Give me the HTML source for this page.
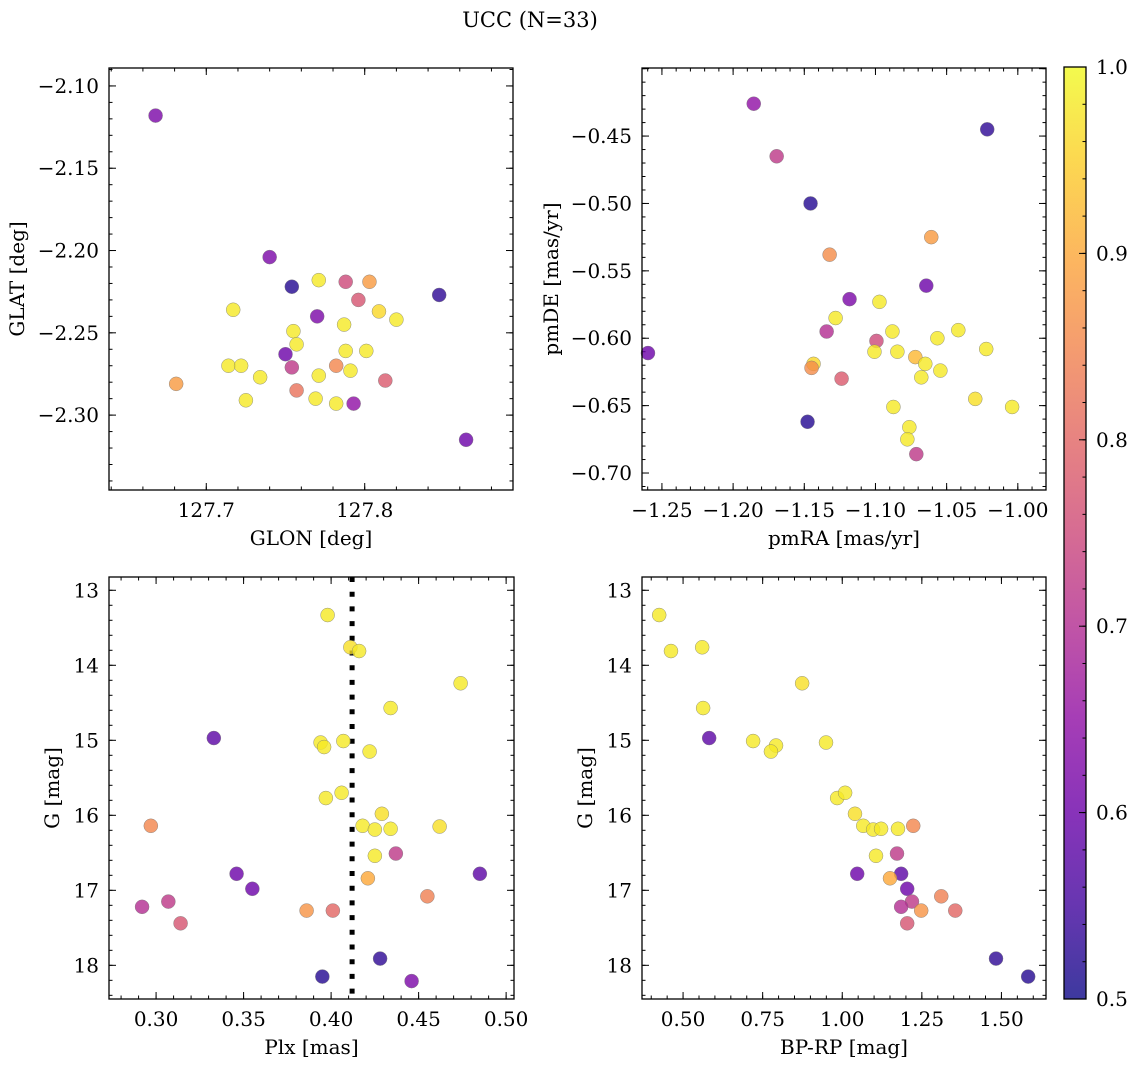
<!DOCTYPE html>
<html><head><meta charset="utf-8">
<style>
html,body{margin:0;padding:0;background:#fff;}
svg{display:block;font-family:"DejaVu Serif","Liberation Serif",serif;}
</style></head>
<body>
<svg id="fig" width="1136" height="1067" viewBox="0 0 1136 1067" xmlns="http://www.w3.org/2000/svg">
<text x="530" y="27" font-size="21" text-anchor="middle">UCC (N=33)</text>
</svg>
<script>
// Panel 1: GLON vs GLAT
const glon = [127.668,127.740,127.754,127.771,127.788,127.803,127.847,127.796,127.717,127.809,127.820,127.770,127.787,127.755,127.757,127.788,127.801,127.750,127.714,127.722,127.754,127.782,127.791,127.734,127.771,127.813,127.681,127.757,127.725,127.769,127.782,127.793,127.864];
const glat = [-2.118,-2.204,-2.222,-2.218,-2.219,-2.219,-2.227,-2.230,-2.236,-2.237,-2.242,-2.240,-2.245,-2.249,-2.257,-2.261,-2.261,-2.263,-2.270,-2.270,-2.271,-2.270,-2.273,-2.277,-2.276,-2.279,-2.281,-2.285,-2.291,-2.290,-2.293,-2.293,-2.315];
const prob1 = [0.62,0.62,0.52,0.98,0.75,0.88,0.53,0.77,0.98,0.96,0.98,0.62,0.98,0.98,0.98,0.98,0.98,0.6,0.98,0.98,0.72,0.85,0.98,0.98,0.98,0.78,0.88,0.82,0.98,0.98,0.98,0.65,0.6];
const glonTicks = ["127.7","127.8"];
const glatTicks = ["−2.10","−2.15","−2.20","−2.25","−2.30"];
// Panel 2: pmRA vs pmDE
const pmra = [-1.1855,-1.1694,-1.0215,-1.1456,-1.0608,-1.1322,-1.0643,-1.1182,-1.0972,-1.128,-1.1343,-1.0881,-1.0418,-1.0565,-1.0993,-1.1435,-1.1449,-1.0846,-1.1007,-1.0222,-1.072,-1.065,-1.0544,-1.2598,-1.1238,-1.0678,-1.0299,-1.0874,-1.004,-1.0762,-1.0776,-1.1477,-1.0713];
const pmde = [-0.426,-0.465,-0.445,-0.500,-0.525,-0.538,-0.561,-0.571,-0.573,-0.585,-0.595,-0.595,-0.594,-0.600,-0.602,-0.619,-0.622,-0.610,-0.610,-0.608,-0.614,-0.619,-0.624,-0.611,-0.630,-0.629,-0.645,-0.651,-0.651,-0.666,-0.675,-0.662,-0.686];
const prob2 = [0.65,0.72,0.53,0.52,0.88,0.86,0.6,0.62,0.98,0.98,0.7,0.98,0.98,0.98,0.75,0.96,0.86,0.98,0.98,0.98,0.92,0.98,0.98,0.6,0.78,0.98,0.97,0.98,0.98,0.98,0.98,0.52,0.72];
const pmraTicks = ["−1.25","−1.20","−1.15","−1.10","−1.05","−1.00"];
const pmdeTicks = ["−0.45","−0.50","−0.55","−0.60","−0.65","−0.70"];
// Panel 3: Plx vs G
const plx = [0.398,0.411,0.416,0.474,0.434,0.333,0.394,0.396,0.407,0.422,0.397,0.406,0.429,0.297,0.418,0.425,0.434,0.462,0.425,0.437,0.346,0.421,0.485,0.355,0.455,0.307,0.292,0.386,0.401,0.314,0.395,0.428,0.446];
const gmag3 = [13.33,13.76,13.81,14.24,14.57,14.97,15.03,15.09,15.01,15.15,15.77,15.70,15.98,16.14,16.14,16.19,16.18,16.15,16.54,16.51,16.78,16.84,16.78,16.98,17.08,17.15,17.22,17.27,17.27,17.44,18.15,17.91,18.21];
const prob3 = [0.98,0.97,0.98,0.98,0.98,0.58,0.98,0.98,0.98,0.98,0.98,0.98,0.97,0.85,0.98,0.98,0.98,0.97,0.98,0.72,0.6,0.9,0.58,0.6,0.84,0.72,0.7,0.87,0.8,0.77,0.52,0.53,0.62];
const plxLine = 0.412;
const plxTicks = ["0.30","0.35","0.40","0.45","0.50"];
const gTicks = ["13","14","15","16","17","18"];
// Panel 4: BP-RP vs G
const bprp = [0.425,0.462,0.560,0.874,0.563,0.582,0.720,0.792,0.776,0.949,0.984,1.009,1.040,1.066,1.097,1.122,1.175,1.223,1.106,1.172,1.047,1.185,1.150,1.204,1.311,1.219,1.185,1.248,1.355,1.204,1.483,1.584];
const gmag4 = [13.33,13.81,13.76,14.24,14.57,14.97,15.01,15.07,15.15,15.03,15.77,15.70,15.98,16.14,16.19,16.18,16.18,16.14,16.54,16.51,16.78,16.78,16.84,16.98,17.08,17.15,17.22,17.27,17.27,17.44,17.91,18.15];
const prob4 = [0.98,0.98,0.98,0.97,0.98,0.58,0.98,0.98,0.98,0.98,0.98,0.98,0.97,0.98,0.98,0.98,0.98,0.85,0.98,0.72,0.6,0.58,0.9,0.6,0.84,0.72,0.7,0.87,0.8,0.77,0.53,0.52];
const bprpTicks = ["0.50","0.75","1.00","1.25","1.50"];
const cbarTicks = ["0.5","0.6","0.7","0.8","0.9","1.0"];

const FS = 20;
const NS = "http://www.w3.org/2000/svg";
const svg = document.getElementById('fig');
const plasma = ["#0d0887","#41049d","#6a00a8","#8f0da4","#b12a90","#cc4778","#e16462","#f2844b","#fca636","#fcce25","#f0f921"];
function hex(h){return [parseInt(h.substr(1,2),16),parseInt(h.substr(3,2),16),parseInt(h.substr(5,2),16)];}
function cmap(p){
  let t=(p-0.5)/0.5; t=Math.max(0,Math.min(1,t));
  const f=t*10, i=Math.min(9,Math.floor(f)), r=f-i;
  const a=hex(plasma[i]), b=hex(plasma[i+1]);
  return "rgb("+a.map((v,k)=>Math.round(v+(b[k]-v)*r)).join(",")+")";
}
function mk(tag, attrs, parent){
  const e=document.createElementNS(NS,tag);
  for(const k in attrs) e.setAttribute(k,attrs[k]);
  (parent||svg).appendChild(e); return e;
}
function lin(d0,d1,r0,r1){return v=>r0+(v-d0)/(d1-d0)*(r1-r0);}

function panel(cfg){
  const {L,T,R,B,xd,yd,name}=cfg;
  const sx=lin(xd[0],xd[1],L,R), sy=lin(yd[0],yd[1],B,T);
  const g=mk('g',{});
  
  
  const tg=mk('g',{stroke:'#000','stroke-width':1},g);
  function ticksAxis(step, len, isX){
    const lo=isX?Math.min(...xd):Math.min(...yd), hi=isX?Math.max(...xd):Math.max(...yd);
    for(let v=Math.ceil(lo/step-1e-6)*step; v<=hi+1e-9; v+=step){
      if(isX){const x=sx(v);
        mk('line',{x1:x,y1:B,x2:x,y2:B-len},tg); mk('line',{x1:x,y1:T,x2:x,y2:T+len},tg);}
      else{const y=sy(v);
        mk('line',{x1:L,y1:y,x2:L+len,y2:y},tg); mk('line',{x1:R,y1:y,x2:R-len,y2:y},tg);}
    }
  }
  ticksAxis(cfg.xmaj,7,true); ticksAxis(cfg.xmin,3.5,true);
  ticksAxis(cfg.ymaj,7,false); ticksAxis(cfg.ymin,3.5,false);
  cfg.xTickLabels.forEach((s,i)=>{
    const v=cfg.xTickVals[i];
    const t=mk('text',{x:sx(v),y:B+27,'font-size':FS,'text-anchor':'middle'},g);
    t.textContent=s;
    
    
  });
  cfg.yTickLabels.forEach((s,i)=>{
    const v=cfg.yTickVals[i];
    const t=mk('text',{x:L-10,y:sy(v)+7,'font-size':FS,'text-anchor':'end'},g);
    t.textContent=s;
    
    
  });
  const xt=mk('text',{x:(L+R)/2,y:B+55,'font-size':FS,'text-anchor':'middle'},g);
  xt.textContent=cfg.xlabel;
  
  
  const yt=mk('text',{x:0,y:0,'font-size':FS,'text-anchor':'middle',transform:`translate(${cfg.ylabX},${(T+B)/2}) rotate(-90)`},g);
  yt.textContent=cfg.ylabel;
  
  
  if(cfg.vline!==undefined){
    const vl=mk('line',{x1:sx(cfg.vline),y1:T,x2:sx(cfg.vline),y2:B,stroke:'#000','stroke-width':5,'stroke-dasharray':'5 9.7'},g);
    
    
  }
  cfg.xs.forEach((xv,i)=>{
    const c=mk('circle',{cx:sx(xv),cy:sy(cfg.ys[i]),r:7,fill:cmap(cfg.ps[i]),'fill-opacity':0.8,stroke:'#777','stroke-width':0.4},g);
    
    
  });
  const fr=mk('rect',{x:L,y:T,width:R-L,height:B-T,fill:'none',stroke:'#000','stroke-width':1.3},g);
  
  
}

panel({name:'glon-glat-panel',L:109,T:68,R:513,B:490,xd:[127.6386,127.8936],yd:[-2.3455,-2.0891],
  xmaj:0.1,xmin:0.02,ymaj:0.05,ymin:0.01,xTickLabels:glonTicks,xTickVals:[127.7,127.8],
  yTickLabels:glatTicks,yTickVals:[-2.10,-2.15,-2.20,-2.25,-2.30],xlabel:'GLON [deg]',ylabel:'GLAT [deg]',ylabX:24,
  xs:glon,ys:glat,ps:prob1});
panel({name:'pm-panel',L:642,T:68,R:1046,B:490,xd:[-1.264,-0.9802],yd:[-0.7126,-0.3995],
  xmaj:0.05,xmin:0.01,ymaj:0.05,ymin:0.01,xTickLabels:pmraTicks,xTickVals:[-1.25,-1.20,-1.15,-1.10,-1.05,-1.00],
  yTickLabels:pmdeTicks,yTickVals:[-0.45,-0.50,-0.55,-0.60,-0.65,-0.70],xlabel:'pmRA [mas/yr]',ylabel:'pmDE [mas/yr]',ylabX:558,
  xs:pmra,ys:pmde,ps:prob2});
panel({name:'plx-g-panel',L:109,T:577,R:514,B:999,xd:[0.2731,0.5045],yd:[18.449,12.823],
  xmaj:0.05,xmin:0.01,ymaj:1,ymin:0.2,xTickLabels:plxTicks,xTickVals:[0.30,0.35,0.40,0.45,0.50],
  yTickLabels:gTicks,yTickVals:[13,14,15,16,17,18],xlabel:'Plx [mas]',ylabel:'G [mag]',ylabX:59,
  xs:plx,ys:gmag3,ps:prob3,vline:plxLine});
panel({name:'cmd-panel',L:642,T:577,R:1046,B:999,xd:[0.371,1.640],yd:[18.449,12.823],
  xmaj:0.25,xmin:0.05,ymaj:1,ymin:0.2,xTickLabels:bprpTicks,xTickVals:[0.5,0.75,1.0,1.25,1.5],
  yTickLabels:gTicks,yTickVals:[13,14,15,16,17,18],xlabel:'BP-RP [mag]',ylabel:'G [mag]',ylabX:592,
  xs:bprp,ys:gmag4,ps:prob4});

(function(){
  const L=1064,R=1086,T=67,B=999;
  const cg=mk('g',{});
  
  
  const defs=mk('defs',{},cg);
  const lg=mk('linearGradient',{id:'cb',x1:0,y1:1,x2:0,y2:0},defs);
  plasma.forEach((c,i)=>mk('stop',{offset:i/10,'stop-color':c,'stop-opacity':0.8},lg));
  mk('rect',{x:L,y:T,width:R-L,height:B-T,fill:'url(#cb)'},cg);
  const sy=lin(0.5,1.0,B,T);
  for(let v=0.5; v<=1.0001; v+=0.02){const y=sy(v); mk('line',{x1:R,y1:y,x2:R-3.5,y2:y,stroke:'#000','stroke-width':1},cg);}
  cbarTicks.forEach(s=>{
    const y=sy(parseFloat(s));
    mk('line',{x1:R,y1:y,x2:R-7,y2:y,stroke:'#000','stroke-width':1},cg);
    const t=mk('text',{x:R+10,y:y+7,'font-size':FS},cg);
    t.textContent=s;
    
    
  });
  mk('rect',{x:L,y:T,width:R-L,height:B-T,fill:'none',stroke:'#000','stroke-width':1.3},cg);
})();
</script>
</body></html>
